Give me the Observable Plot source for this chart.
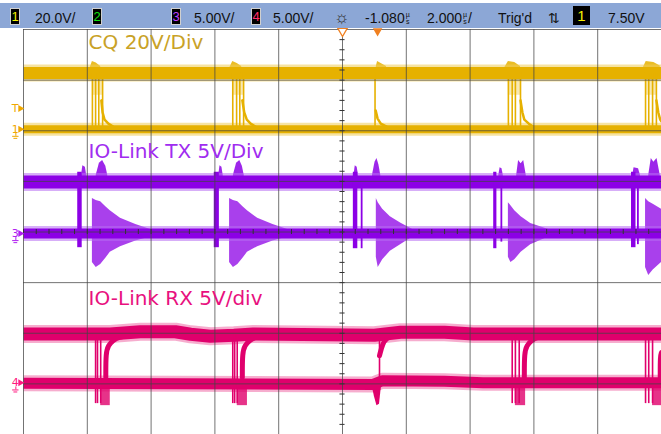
<!DOCTYPE html>
<html><head><meta charset="utf-8">
<script src="https://cdn.jsdelivr.net/npm/d3@7"></script>
<script src="https://cdn.jsdelivr.net/npm/@observablehq/plot@0.6"></script>
<style>
html,body{margin:0;padding:0;background:#fff}
body{width:661px;height:434px;overflow:hidden;font-family:"Liberation Sans",Arial,sans-serif}
#hdr{position:relative;margin-top:3px;height:25px;background:#8ca7d6;}
#hdr span{position:absolute;top:3px;line-height:25px;font-size:14px;color:#111;white-space:nowrap}
#hdr span.b{top:5px;width:8px;height:15px;background:#000;border:1px solid #d0d0d0;font-size:13px;line-height:15px;text-align:center}
#hdr span.t{top:3px;width:17px;height:19px;background:#000;border:none;font-size:15px;line-height:19px;text-align:center}
#hdr span.sun{top:2px;font-size:17px;color:#333}
i.us{font-style:normal;display:inline-block;font-size:7px;line-height:7px;vertical-align:-1px;text-align:center;width:6px}
#chart svg{display:block}
</style></head>
<body>
<div id="hdr"></div>
<div id="chart"></div>
<script>
// ---------- header (scope settings) ----------
const channelBadges = [["1", "#f4f000"], ["2", "#10e010"], ["3", "#c040ff"], ["4", "#ff2a6a"]];
const channelScales = ["20.0V/", "", "5.00V/", "5.00V/"];
const timeDelay = "-1.080";
const timeScale = "2.000";
const trigState = "Trig'd";
const trigLevel = "7.50V";

// ---------- channel reference levels (divisions) ----------
const highLevels = [7.14, 4.99, 1.985];
const lowLevels = [6.03, 3.97, 1.02];
const labelTexts = ["CQ 20V/Div", "IO-Link TX 5V/Div", "IO-Link RX 5V/div"];
const labelY = [7.74, 5.59, 2.68];

// ---------- CQ (channel 1) ----------
const cqHigh = [[0, 7.14], [10, 7.14]];
const cqLow = [[0, 6.03], [10, 6.03]];
const cqEdgeX = [1.08, 1.13, 1.18, 1.24, 3.28, 3.34, 3.39, 3.45, 5.51, 7.60, 7.66, 7.71, 7.79, 9.75, 9.80, 9.86, 9.92];
const cqPulseSpans = [[1.08, 1.24], [3.28, 3.45], [7.60, 7.79], [9.75, 9.92]];
const cqOvershoots = [
  [[1.05, 7.26], [1.08, 7.37], [1.14, 7.34], [1.21, 7.27]],
  [[3.24, 7.26], [3.28, 7.37], [3.35, 7.33], [3.42, 7.27]],
  [[5.53, 7.27], [5.55, 7.37], [5.62, 7.32], [5.69, 7.27]],
  [[7.55, 7.26], [7.60, 7.37], [7.70, 7.35], [7.79, 7.27]],
  [[9.72, 7.26], [9.76, 7.37], [9.88, 7.35], [9.98, 7.28]]
];
const cqTails = [
  [[1.22, 6.60], [1.24, 6.36], [1.27, 6.22], [1.33, 6.14], [1.41, 6.08]],
  [[3.43, 6.60], [3.46, 6.36], [3.50, 6.22], [3.56, 6.14], [3.64, 6.08]],
  [[5.52, 6.40], [5.55, 6.24], [5.60, 6.14], [5.69, 6.08]],
  [[7.79, 6.60], [7.82, 6.36], [7.85, 6.22], [7.92, 6.14], [7.99, 6.08]],
  [[9.92, 6.60], [9.95, 6.36], [9.98, 6.22], [10, 6.18]]
];

// ---------- IO-Link TX (channel 3) ----------
const txHigh = [[0, 4.99], [10, 4.99]];
const txLow = [[0, 3.97], [10, 3.97]];
const txBursts = [[0.85, 0.92, 3.69, 5.18], [2.99, 3.07, 3.69, 5.18], [5.17, 5.24, 3.67, 5.18], [7.37, 7.42, 3.67, 5.18], [9.53, 9.60, 3.69, 5.18]];
const txEdges = [[5.30, 3.67, 4.99], [7.49, 3.80, 4.99], [9.63, 3.75, 4.99]];
const txBumps = [
  [[0.91, 5.12], [0.93, 5.31], [0.97, 5.28], [0.99, 5.12]],
  [[1.14, 5.12], [1.19, 5.36], [1.24, 5.41], [1.29, 5.30], [1.32, 5.12]],
  [[3.06, 5.12], [3.08, 5.31], [3.11, 5.28], [3.13, 5.12]],
  [[3.29, 5.12], [3.34, 5.36], [3.39, 5.41], [3.43, 5.30], [3.46, 5.12]],
  [[5.18, 5.12], [5.20, 5.31], [5.23, 5.28], [5.25, 5.12]],
  [[5.47, 5.12], [5.51, 5.38], [5.54, 5.45], [5.57, 5.33], [5.60, 5.12]],
  [[7.45, 5.12], [7.47, 5.27], [7.50, 5.25], [7.52, 5.12]],
  [[7.73, 5.12], [7.76, 5.41], [7.80, 5.35], [7.84, 5.41], [7.88, 5.12]],
  [[9.55, 5.12], [9.57, 5.27], [9.64, 5.25], [9.67, 5.12]],
  [[9.80, 5.12], [9.84, 5.45], [9.88, 5.38], [9.93, 5.45], [9.98, 5.12]]
];
const txRinging = [
  [[1.08, 3.40, 4.66], [1.14, 3.30, 4.62], [1.21, 3.36, 4.60], [1.29, 3.48, 4.50], [1.36, 3.60, 4.42], [1.52, 3.71, 4.27], [1.76, 3.82, 4.15], [1.99, 3.90, 4.05]],
  [[3.23, 3.40, 4.66], [3.29, 3.30, 4.62], [3.36, 3.36, 4.60], [3.44, 3.48, 4.50], [3.51, 3.60, 4.42], [3.67, 3.71, 4.27], [3.91, 3.82, 4.15], [4.14, 3.90, 4.05]],
  [[5.53, 3.50, 4.66], [5.56, 3.30, 4.58], [5.63, 3.45, 4.45], [5.75, 3.62, 4.30], [5.91, 3.75, 4.18], [6.10, 3.90, 4.05]],
  [[7.60, 3.50, 4.58], [7.64, 3.40, 4.52], [7.70, 3.45, 4.42], [7.80, 3.60, 4.30], [7.95, 3.75, 4.17], [8.23, 3.90, 4.05]],
  [[9.75, 3.30, 4.66], [9.80, 3.14, 4.60], [9.87, 3.25, 4.55], [10, 3.40, 4.45]]
];

// ---------- IO-Link RX (channel 4) ----------
const rxHigh = [[0, 1.985], [1.36, 1.985], [1.83, 2.03], [2.38, 2.03], [2.62, 1.98], [2.93, 1.94], [3.30, 1.96], [3.60, 1.985], [5.50, 1.96], [5.91, 2.02], [6.60, 2.02], [7.05, 1.985], [10, 1.985]];
const rxLow = [[0, 1.01], [5.48, 0.99], [5.62, 1.06], [6.60, 1.05], [7.20, 1.02], [10, 1.02]];
const rxEdges = [[1.13, 0.61, 1.985], [1.16, 0.61, 1.985], [1.21, 0.61, 1.985], [3.28, 0.61, 1.985], [3.31, 0.61, 1.985], [3.35, 0.61, 1.985], [5.58, 0.87, 1.92], [7.66, 0.61, 1.985], [7.71, 0.61, 1.985], [7.77, 0.61, 1.985], [9.75, 0.61, 1.985], [9.80, 0.61, 1.985], [9.86, 0.61, 1.985]];
const rxDips = [[1.21, 1.36, 0.57, 1.0], [3.35, 3.51, 0.57, 1.0], [7.71, 7.87, 0.57, 1.0], [9.86, 10, 0.57, 1.0]];
const rxTriggerDip = [[5.46, 0.99, 0.99], [5.50, 0.75, 1.0], [5.54, 0.57, 1.0], [5.58, 0.60, 1.0], [5.61, 0.95, 1.0]];
const rxRecovery = [
  [[1.29, 1.13], [1.29, 1.62], [1.33, 1.76], [1.40, 1.86], [1.49, 1.92], [1.65, 1.96]],
  [[3.43, 1.13], [3.43, 1.62], [3.47, 1.76], [3.54, 1.86], [3.63, 1.92], [3.79, 1.96]],
  [[5.58, 1.56], [5.63, 1.80], [5.69, 1.90], [5.78, 1.96], [5.91, 2.0]],
  [[7.85, 1.13], [7.85, 1.62], [7.89, 1.76], [7.96, 1.86], [8.05, 1.92], [8.21, 1.96]],
  [[9.98, 1.13], [9.98, 1.55], [10, 1.62]]
];

// ---------- screen furniture ----------
const gridX = [0, 1, 2, 3, 4, 5, 6, 7, 8, 9, 10];
const gridY = [0, 1, 2, 3, 4, 5, 6, 7, 8];
const markerTexts = ["T", "1", "3", "4"];
const markerY = [6.44, 6.03, 3.97, 1.02];
const markerColors = ["#f0a800", "#f0a800", "#b020f0", "#ff1a80"];
const timeMarkers = [5.0, 5.55];

// colours
const C = {
  cq: "#e6b100", cqHalo: "#efcc55", cqText: "#c9a227",
  tx: "#8c00e6", txHalo: "#b66cf2", txText: "#a02cf0",
  rx: "#e0006c", rxHalo: "#ef6aa6", rxText: "#e8107e"
};

// ---------- header build ----------
const hdr = document.getElementById("hdr");
function span(left, html, cls, color) {
  const s = document.createElement("span");
  s.style.left = left + "px";
  if (cls) s.className = cls;
  if (color) s.style.color = color;
  s.innerHTML = html;
  hdr.appendChild(s);
}
const badgeLeft = [10, 92, 171, 251];
const scaleLeft = [35, 0, 194, 273];
channelBadges.forEach(([t, c], i) => {
  span(badgeLeft[i], t, "b", c);
  if (channelScales[i]) span(scaleLeft[i], channelScales[i]);
});
span(334, "☼", "sun");
span(365, timeDelay + '<i class="us">µ<br>s</i>');
span(427, timeScale + '<i class="us">µ<br>s</i>/');
span(498, trigState);
span(548, "⇅");
span(573, "1", "t", "#f4f000");
span(608, trigLevel);

// ---------- helpers ----------
const flat = (groups) => groups.flatMap((g, i) => g.map(([x, y]) => ({id: i, x, y})));
const flat3 = (groups) => groups.flatMap((g, i) => g.map(([x, lo, hi]) => ({id: i, x, lo, hi})));
const pts = (arr, id) => arr.map(([x, y]) => ({id, x, y}));

function band(arr, color, halo, w) {
  return [
    Plot.line(pts(arr, 0), {x: "x", y: "y", stroke: halo, strokeWidth: w + 5, strokeOpacity: 0.55, strokeLinecap: "butt"}),
    Plot.line(pts(arr, 0), {x: "x", y: "y", stroke: color, strokeWidth: w, strokeLinecap: "butt"})
  ];
}

const labels = labelTexts.map((t, i) => ({t, y: labelY[i], c: [C.cqText, C.txText, C.rxText][i]}));
const markers = markerTexts.map((t, i) => ({t, y: markerY[i], c: markerColors[i]}));
const grounds = markers.slice(1);

const chart = Plot.plot({
  width: 661, height: 406,
  marginLeft: 23, marginRight: 0, marginTop: 1, marginBottom: 0,
  x: {domain: [0, 10], axis: null},
  y: {domain: [0, 8], axis: null},
  color: {type: "identity"},
  style: {background: "transparent", overflow: "visible"},
  marks: [
    // CQ
    Plot.rect(cqPulseSpans, {x1: d => d[0], x2: d => d[1], y1: 6.70, y2: 7.05, fill: C.cqHalo, fillOpacity: 0.45}),
    Plot.areaY(flat(cqOvershoots), {x: "x", y1: 7.14, y2: "y", z: "id", fill: C.cq, fillOpacity: 0.85}),
    ...band(cqHigh, C.cq, C.cqHalo, 12),
    ...band(cqLow, C.cq, C.cqHalo, 8),
    Plot.ruleX(cqEdgeX, {x: d => d, y1: lowLevels[0], y2: highLevels[0], stroke: C.cq, strokeWidth: 1.6}),
    Plot.line(flat(cqTails), {x: "x", y: "y", z: "id", stroke: C.cq, strokeWidth: 2.5}),

    // TX
    Plot.areaY(flat3(txRinging), {x: "x", y1: "lo", y2: "hi", z: "id", fill: C.tx, fillOpacity: 0.75}),
    Plot.areaY(flat(txBumps), {x: "x", y1: highLevels[1], y2: "y", z: "id", fill: C.tx, fillOpacity: 0.85}),
    ...band(txHigh, C.tx, C.txHalo, 13),
    ...band(txLow, C.tx, C.txHalo, 10),
    Plot.rect(txBursts, {x1: d => d[0], x2: d => d[1], y1: d => d[2], y2: d => d[3], fill: C.tx}),
    Plot.ruleX(txEdges, {x: d => d[0], y1: d => d[1], y2: d => d[2], stroke: C.tx, strokeWidth: 1.8}),

    // RX
    ...band(rxHigh, C.rx, C.rxHalo, 13),
    ...band(rxLow, C.rx, C.rxHalo, 11),
    Plot.rect(rxDips, {x1: d => d[0], x2: d => d[1], y1: d => d[2], y2: d => d[3], fill: C.rx, fillOpacity: 0.8}),
    Plot.areaY(rxTriggerDip.map(([x, lo, hi]) => ({x, lo, hi})), {x: "x", y1: "lo", y2: "hi", fill: C.rx}),
    Plot.ruleX(rxEdges, {x: d => d[0], y1: d => d[1], y2: d => d[2], stroke: C.rx, strokeWidth: 1.6}),
    Plot.line(flat(rxRecovery), {x: "x", y: "y", z: "id", stroke: C.rx, strokeWidth: 5, curve: "basis"}),

    // grid on top
    Plot.ruleX(gridX, {x: d => d, stroke: "#444", strokeOpacity: 0.75, strokeWidth: 1}),
    Plot.ruleY(gridY, {y: d => d, stroke: "#444", strokeOpacity: 0.75, strokeWidth: 1}),
    Plot.ruleX(d3.range(0, 10.001, 0.2), {x: d => d, y1: 3.95, y2: 4.05, stroke: "#333"}),
    Plot.ruleY(d3.range(0, 8.001, 0.2), {y: d => d, x1: 4.96, x2: 5.04, stroke: "#333"}),

    // channel labels
    Plot.text(labels, {x: 1.02, y: "y", text: "t", fill: "c", fontSize: 20, fontFamily: "DejaVu Sans", textAnchor: "start"}),

    // left side markers: number, arrow, ground symbol
    Plot.text(markers, {x: -0.13, y: "y", text: "t", fill: "c", fontSize: 11, fontFamily: "DejaVu Sans"}),
    Plot.dot(markers, {x: -0.05, y: "y", symbol: "triangle", rotate: 90, r: 2.6, fill: "c", stroke: null}),
    Plot.ruleX(grounds, {x: -0.12, y1: d => d.y - 0.08, y2: d => d.y - 0.14, stroke: "c", strokeWidth: 1}),
    Plot.ruleY(grounds, {y: d => d.y - 0.14, x1: -0.17, x2: -0.07, stroke: "c", strokeWidth: 1}),
    Plot.ruleY(grounds, {y: d => d.y - 0.18, x1: -0.15, x2: -0.09, stroke: "c", strokeWidth: 1}),

    // time reference / trigger markers
    Plot.dot([timeMarkers[0]], {x: d => d, y: 7.97, symbol: "triangle", rotate: 180, r: 3.5, stroke: "#f08020", fill: "white", strokeWidth: 1.3}),
    Plot.dot([timeMarkers[1]], {x: d => d, y: 7.97, symbol: "triangle", rotate: 180, r: 3.5, fill: "#f08020", stroke: null})
  ]
});
document.getElementById("chart").appendChild(chart);
</script>
</body></html>
